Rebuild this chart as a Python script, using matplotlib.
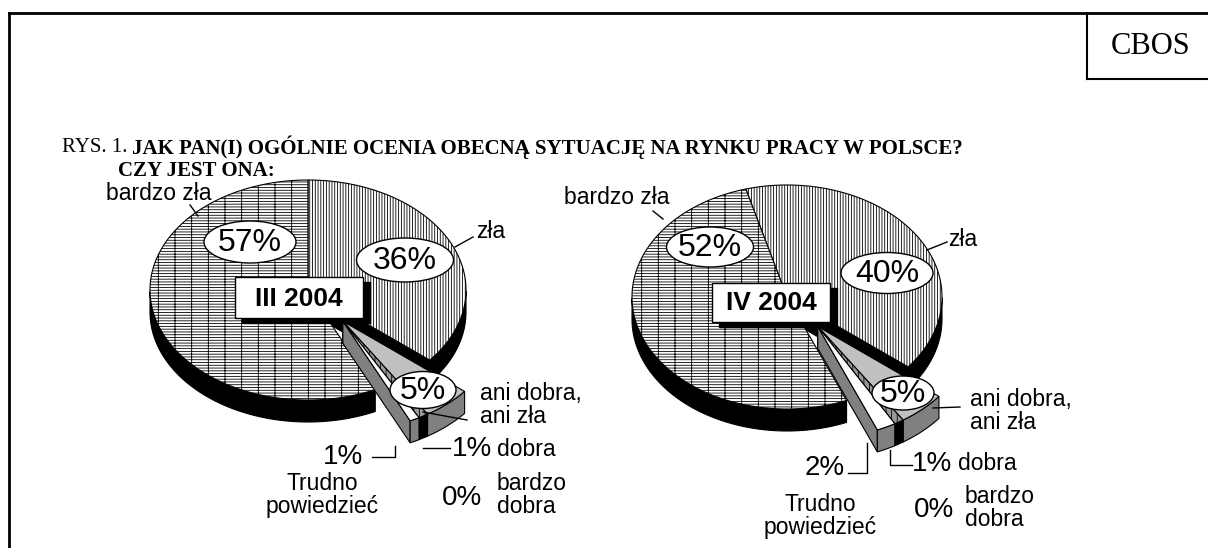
import numpy as np
import matplotlib
matplotlib.use('Agg')
import matplotlib.pyplot as plt
from matplotlib.patches import Polygon, Ellipse, Rectangle

# dane
kategorie = ['zła', 'ani dobra,\nani zła', 'dobra', 'bardzo\ndobra', 'Trudno\npowiedzieć', 'bardzo zła']
okresy = ['III 2004', 'IV 2004']
wyniki_iii = [36, 5, 1, 0, 1, 57]
wyniki_iv = [40, 5, 1, 0, 2, 52]

# wyglad wycinkow
kolor_gora = ['white', '#c0c0c0', '#9a9a9a', 'black', 'white', 'white']
kolor_bok = ['black', '#808080', 'black', 'black', '#808080', 'black']
wzor = ['||||||', None, '|||', None, None, '------|']

plt.rcParams['hatch.linewidth'] = 0.6
SANS = 'Liberation Sans'
SERIF = 'Liberation Serif'

fig = plt.figure(figsize=(12.08, 5.48), dpi=100)
ax = fig.add_axes([0, 0, 1, 1])
ax.set_xlim(0, 1208)
ax.set_ylim(548, 0)
ax.axis('off')


def sciany(x0, y0, a, b, d, t0, t1, kolor):
    t = np.linspace(t0, t1, 200)
    xs = x0 + a*np.cos(t)
    ys = y0 - b*np.sin(t)
    for tt, widac in ((t0, np.cos(t0) < -1e-9), (t1, np.cos(t1) > 1e-9)):
        if widac:
            xr, yr = x0 + a*np.cos(tt), y0 - b*np.sin(tt)
            q = [(x0, y0), (xr, yr), (xr, yr+d), (x0, y0+d)]
            ax.add_patch(Polygon(q, closed=True, fc=kolor, ec='black', lw=0.8))
    m = np.sin(t) <= 0
    if m.sum() > 1:
        pas = np.r_[np.column_stack([xs[m], ys[m]]), np.column_stack([xs[m][::-1], ys[m][::-1]+d])]
        ax.add_patch(Polygon(pas, closed=True, fc=kolor, ec='black', lw=0.8))


def gora(x0, y0, a, b, t0, t1, i):
    t = np.linspace(t0, t1, 200)
    pts = np.r_[[[x0, y0]], np.column_stack([x0 + a*np.cos(t), y0 - b*np.sin(t)])]
    ax.add_patch(Polygon(pts, closed=True, fc=kolor_gora[i], ec='black', lw=0.8, hatch=wzor[i]))


def kolo(vals, cx, cy, a, b, d, start, wyb):
    fr = np.array(vals, dtype=float)/sum(vals)
    kat = np.radians(start - 360*np.concatenate([[0], np.cumsum(fr)]))
    tm = (kat[1] + kat[5])/2
    ox, oy = wyb*a*np.cos(tm), -wyb*b*np.sin(tm)
    duze = [0, 5]
    male = [1, 2, 3, 4]
    for i in duze:
        sciany(cx, cy, a, b, d, kat[i], kat[i+1], kolor_bok[i])
    for i in duze:
        gora(cx, cy, a, b, kat[i], kat[i+1], i)
    for i in male:
        if fr[i] == 0:
            continue
        sciany(cx+ox, cy+oy, a, b, d, kat[i], kat[i+1], kolor_bok[i])
        gora(cx+ox, cy+oy, a, b, kat[i], kat[i+1], i)


def owal(x, y, w, h, v):
    ax.add_patch(Ellipse((x, y), w, h, fc='white', ec='black', lw=1, zorder=5))
    ax.text(x, y+1, '%d%%' % v, fontsize=23, family=SANS, ha='center', va='center', zorder=6)


def ramka(x, y, w, h, s):
    ax.add_patch(Rectangle((x+7, y+5), w, h, fc='black', ec='black', zorder=5))
    ax.add_patch(Rectangle((x, y), w, h, fc='white', ec='black', lw=1, zorder=6))
    ax.text(x+w/2, y+h/2+1, s, fontsize=19, fontweight='bold', family=SANS, ha='center', va='center', zorder=7)


def linia(xs, ys):
    ax.plot(xs, ys, color='black', lw=1, zorder=4)


def napis(x, y, s, size=16.5, ha='left'):
    ax.text(x, y, s, fontsize=size, family=SANS, ha=ha, va='center', linespacing=1.05, zorder=6)


# ramka strony
ax.plot([9, 1208], [13, 13], color='black', lw=2, solid_capstyle='projecting')
ax.plot([9, 9], [13, 548], color='black', lw=2, solid_capstyle='projecting')
ax.plot([1087, 1087], [13, 79], color='black', lw=1.5)
ax.plot([1087, 1208], [79, 79], color='black', lw=1.5)
ax.text(1151, 46, 'CBOS', fontsize=22, family=SERIF, ha='center', va='center')

# tytul
t1 = ax.text(62, 147, 'RYS. 1.', fontsize=15, family=SERIF, ha='left', va='center')
fig.canvas.draw()
bb = t1.get_window_extent()
ax.text(bb.x1 + 5, 147, 'JAK PAN(I) OGÓLNIE OCENIA OBECNĄ SYTUACJĘ NA RYNKU PRACY W POLSCE?',
        fontsize=15, fontweight='bold', family=SERIF, ha='left', va='center')
ax.text(118, 171, 'CZY JEST ONA:', fontsize=15, fontweight='bold', family=SERIF, ha='left', va='center')

# III 2004
kolo(wyniki_iii, 308, 290, 158, 110, 22, 90, 0.36)
owal(250, 242, 92, 42, wyniki_iii[5])
owal(405, 260, 97, 44, wyniki_iii[0])
owal(423, 390, 66, 37, wyniki_iii[1])
ramka(235, 277, 128, 41, okresy[0])
napis(212, 193, kategorie[5], ha='right')
linia([190, 198], [205, 216])
napis(476, 232, kategorie[0])
linia([455, 473], [247, 237])
napis(480, 405, kategorie[1])
linia([423, 467], [412, 420])
napis(343, 457, '%d%%' % wyniki_iii[4], size=20, ha='center')
linia([372, 395, 395], [457, 457, 446])
napis(322, 495, kategorie[4], ha='center')
napis(452, 449, '%d%%' % wyniki_iii[2], size=20)
napis(497, 449, kategorie[2])
linia([423, 450], [448, 448])
napis(442, 498, '%d%%' % wyniki_iii[3], size=20)
napis(497, 495, kategorie[3])

# IV 2004
kolo(wyniki_iv, 787, 297, 155, 112, 22, 105.4, 0.33)
owal(710, 247, 87, 40, wyniki_iv[5])
owal(887, 273, 92, 41, wyniki_iv[0])
owal(903, 393, 62, 34, wyniki_iv[1])
ramka(712, 283, 118, 39, okresy[1])
napis(670, 198, kategorie[5], ha='right')
linia([653, 663], [211, 219])
napis(948, 240, kategorie[0])
linia([927, 947], [250, 242])
napis(970, 411, kategorie[1])
linia([933, 960], [408, 407])
napis(825, 468, '%d%%' % wyniki_iv[4], size=20, ha='center')
linia([848, 867, 867], [473, 473, 443])
napis(820, 516, kategorie[4], ha='center')
napis(912, 464, '%d%%' % wyniki_iv[2], size=20)
napis(958, 464, kategorie[2])
linia([890, 890, 912], [450, 465, 465])
napis(914, 510, '%d%%' % wyniki_iv[3], size=20)
napis(965, 508, kategorie[3])

fig.savefig('out.png', dpi=100)
